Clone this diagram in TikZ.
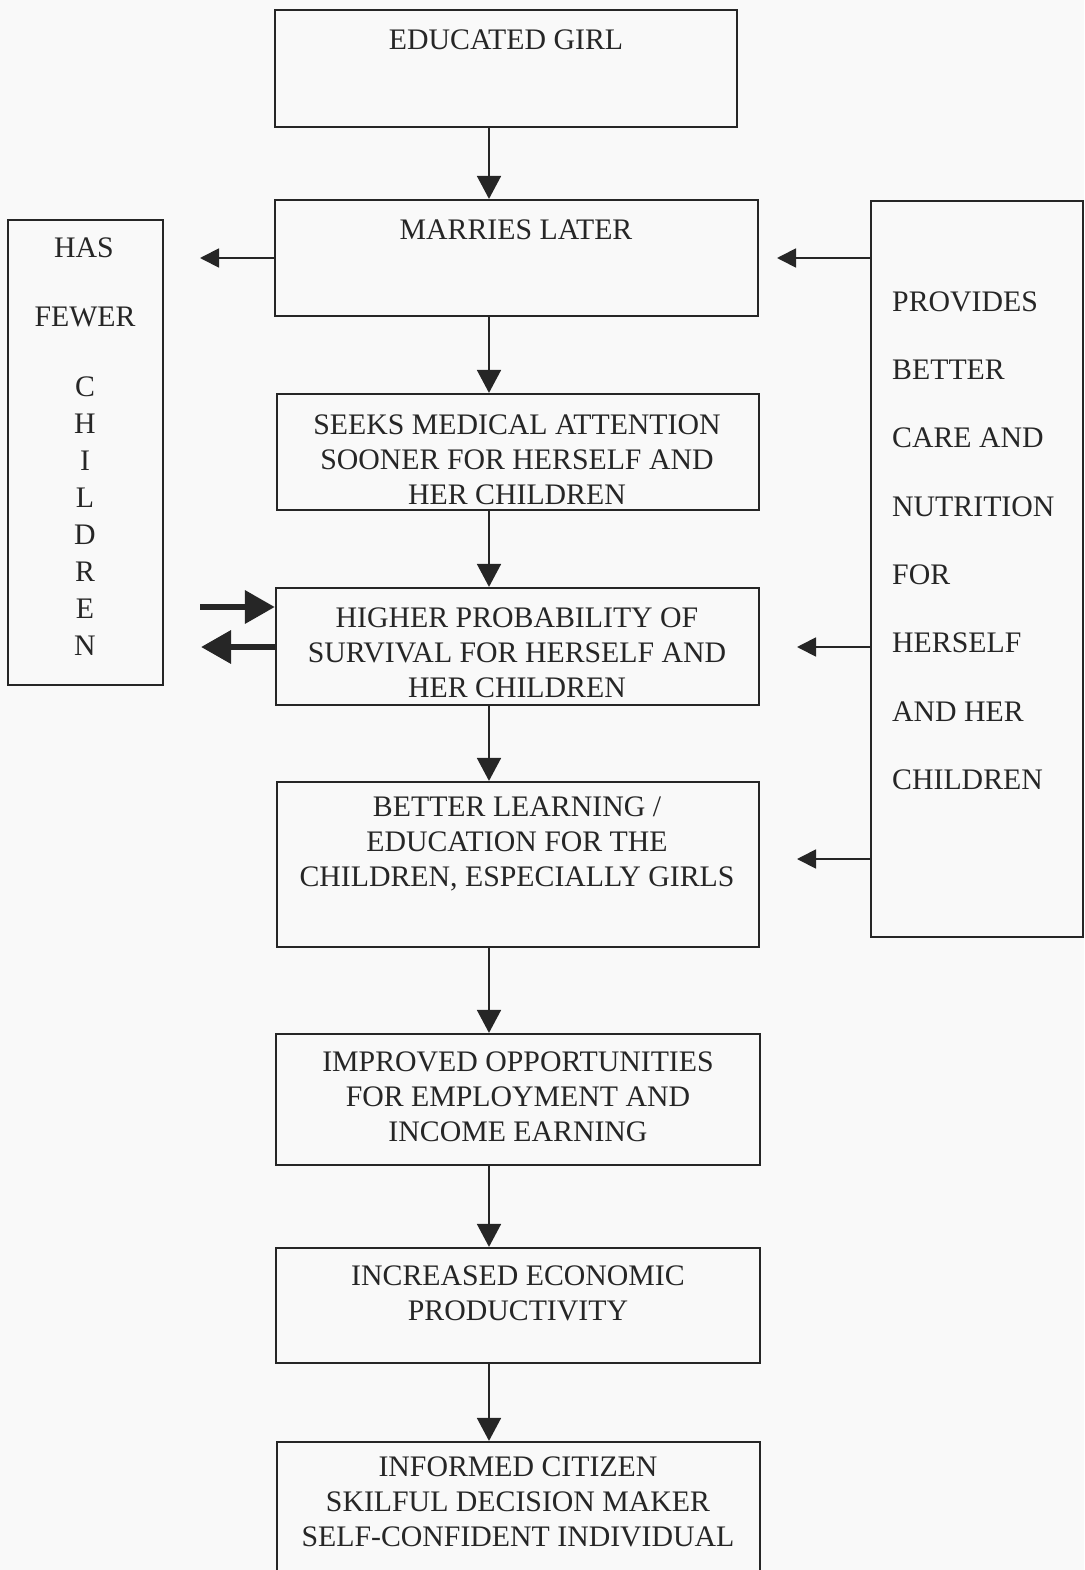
\documentclass[tikz,border=0pt]{standalone}
\usepackage{fontspec}
\setmainfont{Liberation Serif}
\usetikzlibrary{arrows.meta}
\definecolor{ink}{HTML}{262626}
\definecolor{paper}{HTML}{F9F9F9}
\tikzset{
  box/.style={draw=ink, line width=2.2pt, rectangle, inner sep=0pt},
  txt/.style={text=ink, font=\fontsize{29.8}{34.8}\selectfont, align=center, inner sep=0pt},
  ltxt/.style={text=ink, font=\fontsize{29.8}{34.8}\selectfont, anchor=west, inner sep=0pt},
  arr/.style={draw=ink, line width=1.8pt, -{Triangle[length=23pt,width=24pt]}},
  sarr/.style={draw=ink, line width=1.8pt, -{Triangle[length=19pt,width=19pt]}},
  tarr/.style={draw=ink, line width=6.5pt, -{Triangle[length=30pt,width=32pt]}},
}
\begin{document}
\begin{tikzpicture}[x=1pt,y=-1pt]
\fill[paper] (0,0) rectangle (1084,1570);
\useasboundingbox (0,0) rectangle (1084,1570);
\begin{scope}
\clip (0,0) rectangle (1084,1570);
% main column boxes
\node[box, minimum width=462pt, minimum height=117pt] (edu) at (506,68.5) {};
\node[box, minimum width=483pt, minimum height=116pt] (mar) at (516.5,258) {};
\node[box, minimum width=482pt, minimum height=116pt] (seek) at (518,452) {};
\node[box, minimum width=483pt, minimum height=117pt] (high) at (517.5,646.5) {};
\node[box, minimum width=482pt, minimum height=165pt] (bet) at (518,864.5) {};
\node[box, minimum width=484pt, minimum height=131pt] (imp) at (518,1099.5) {};
\node[box, minimum width=484pt, minimum height=115pt] (inc) at (518,1305.5) {};
\node[box, minimum width=483pt, minimum height=158pt] (inf) at (518.5,1521) {};
% side boxes
\node[box, minimum width=155pt, minimum height=465pt] (few) at (85.5,452.5) {};
\node[box, minimum width=212pt, minimum height=736pt] (prov) at (977,569) {};
\end{scope}
% texts
\node[txt] (tedu) at (506,40) {EDUCATED GIRL};
\node[txt] (tmar) at (516,230) {MARRIES LATER};
\node[txt] (tseek) at (517,460) {SEEKS MEDICAL ATTENTION\\SOONER FOR HERSELF AND\\HER CHILDREN};
\node[txt] (thigh) at (517,653) {HIGHER PROBABILITY OF\\SURVIVAL FOR HERSELF AND\\HER CHILDREN};
\node[txt] (tbet) at (517,844) {BETTER LEARNING /\\EDUCATION FOR THE\\CHILDREN, ESPECIALLY GIRLS};
\node[txt] (timp) at (518,1097) {IMPROVED OPPORTUNITIES\\FOR EMPLOYMENT AND\\INCOME EARNING};
\node[txt] (tinc) at (518,1293.5) {INCREASED ECONOMIC\\PRODUCTIVITY};
\node[txt] (tinf) at (518,1502) {INFORMED CITIZEN\\SKILFUL DECISION MAKER\\SELF-CONFIDENT INDIVIDUAL};
% has fewer children
\node[txt] (th1) at (84,248) {HAS};
\node[txt] (th2) at (85,317) {FEWER};
\node[txt, font=\fontsize{29.8}{36.9}\selectfont] (th3) at (85,516) {C\\H\\I\\L\\D\\R\\E\\N};
% provides
\node[ltxt] (p1) at (892,302) {PROVIDES};
\node[ltxt] (p2) at (892,370) {BETTER};
\node[ltxt] (p3) at (892,438) {CARE AND};
\node[ltxt] (p4) at (892,507) {NUTRITION};
\node[ltxt] (p5) at (892,575) {FOR};
\node[ltxt] (p6) at (892,643) {HERSELF};
\node[ltxt] (p7) at (892,712) {AND HER};
\node[ltxt] (p8) at (892,780) {CHILDREN};
% connectors
\coordinate (ax) at (489,0);
\draw[arr] (edu.south -| ax) -- (mar.north -| ax);
\draw[arr] (mar.south -| ax) -- (seek.north -| ax);
\draw[arr] (seek.south -| ax) -- (high.north -| ax);
\draw[arr] (high.south -| ax) -- (bet.north -| ax);
\draw[arr] (bet.south -| ax) -- (imp.north -| ax);
\draw[arr] (imp.south -| ax) -- (inc.north -| ax);
\draw[arr] (inc.south -| ax) -- (inf.north -| ax);
% to has fewer children
\coordinate (m1) at (200,258);
\draw[sarr] (mar.west |- m1) -- (m1);
\coordinate (t1) at (200,607);
\draw[tarr] (t1) -- (t1 -| high.west);
\coordinate (t2) at (201,647);
\draw[tarr] (t2 -| high.west) -- (t2);
% from provides
\coordinate (r1) at (777,258);
\coordinate (r2) at (797,647);
\coordinate (r3) at (797,859);
\draw[sarr] (prov.west |- r1) -- (r1);
\draw[sarr] (prov.west |- r2) -- (r2);
\draw[sarr] (prov.west |- r3) -- (r3);
\end{tikzpicture}
\end{document}
